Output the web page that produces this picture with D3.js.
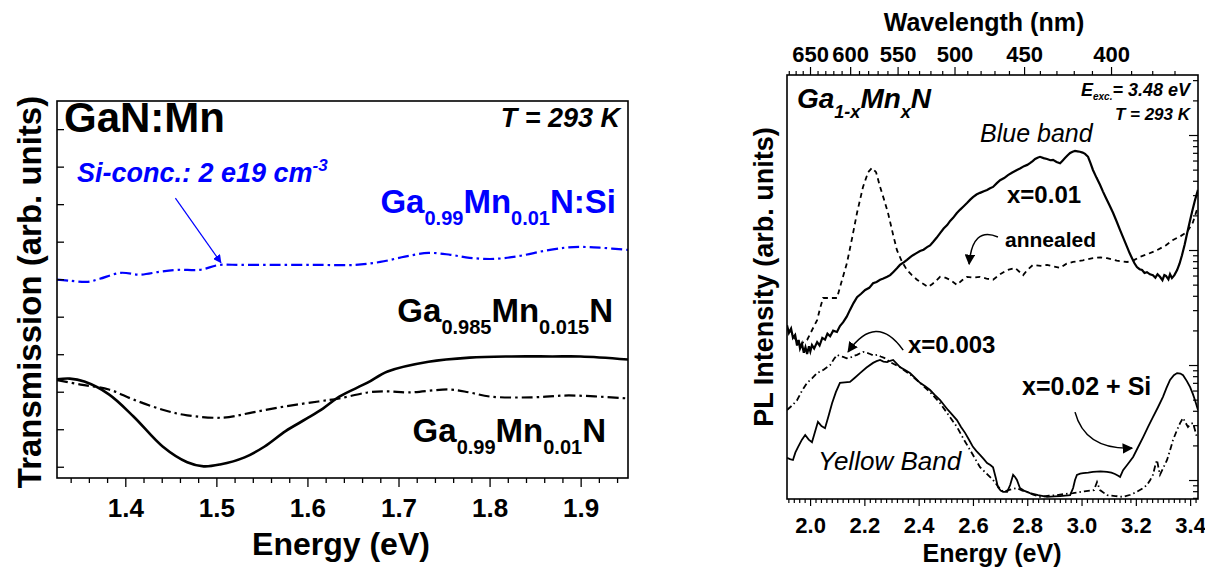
<!DOCTYPE html>
<html><head><meta charset="utf-8">
<script src="https://cdn.jsdelivr.net/npm/d3@7"></script>
<style>
body{margin:0;background:#fff}
svg text{font-family:"Liberation Sans",Arial,Helvetica,sans-serif}
</style>
</head><body>
<svg id="c" width="1205" height="569"></svg>
<script>
// ---------------- DATA: left panel (transmission) ----------------
const transXMajor = [1.4, 1.5, 1.6, 1.7, 1.8, 1.9];
const transYTicks = [0, 1, 2, 3, 4, 5, 6, 7, 8, 9];
// [energy eV, transmission arb. units]
const transSi = [[1.325,4.99],[1.339,4.96],[1.359,4.93],[1.372,5.01],[1.395,5.17],[1.416,5.12],[1.438,5.20],[1.458,5.25],[1.482,5.25],[1.503,5.38],[1.526,5.38],[1.570,5.38],[1.614,5.38],[1.652,5.38],[1.680,5.46],[1.707,5.60],[1.733,5.70],[1.757,5.65],[1.778,5.57],[1.805,5.54],[1.833,5.62],[1.861,5.76],[1.883,5.84],[1.900,5.86],[1.921,5.84],[1.952,5.78]];
const transMn015 = [[1.325,2.33],[1.339,2.35],[1.355,2.27],[1.382,1.93],[1.409,1.34],[1.441,0.54],[1.468,0.12],[1.486,0.01],[1.504,0.06],[1.531,0.25],[1.553,0.54],[1.576,0.95],[1.599,1.28],[1.617,1.55],[1.635,1.87],[1.666,2.24],[1.688,2.54],[1.733,2.80],[1.778,2.91],[1.824,2.94],[1.869,2.94],[1.900,2.94],[1.952,2.86]];
const transMn01 = [[1.325,2.31],[1.351,2.19],[1.382,2.06],[1.409,1.79],[1.441,1.52],[1.468,1.37],[1.508,1.31],[1.540,1.45],[1.576,1.61],[1.612,1.74],[1.635,1.82],[1.666,1.98],[1.688,2.01],[1.711,1.98],[1.756,2.06],[1.778,1.98],[1.801,1.87],[1.846,1.85],[1.887,1.90],[1.952,1.82]];

// ---------------- DATA: right panel (PL) ----------------
const plXMajor = [2.0, 2.2, 2.4, 2.6, 2.8, 3.0, 3.2, 3.4];
const wlMajor = [650, 600, 550, 500, 450, 400];
const wlMinor = [680, 670, 660, 640, 630, 620, 610, 590, 580, 570, 560, 540, 530, 520, 510, 490, 480, 470, 460, 440, 430, 420, 410, 390, 380, 370];
const plLogDomain = [0.684, 3325];
// [energy eV, intensity arb. units]
const plX01 = [[1.915,4.10],[1.922,3.92],[1.930,4.02],[1.937,3.80],[1.945,3.87],[1.952,3.62],[1.958,3.75],[1.963,3.55],[1.970,3.66],[1.977,3.45],[1.983,3.58],[1.989,3.42],[1.996,3.60],[2.001,3.48],[2.007,3.63],[2.015,3.55],[2.026,3.70],[2.035,3.62],[2.045,3.80],[2.055,3.76],[2.064,3.90],[2.074,3.84],[2.085,3.97],[2.099,3.94],[2.110,4.08],[2.122,4.17],[2.135,4.30],[2.147,4.46],[2.160,4.62],[2.173,4.76],[2.188,4.84],[2.203,4.93],[2.218,4.98],[2.232,5.09],[2.245,5.12],[2.258,5.17],[2.270,5.20],[2.284,5.24],[2.295,5.28],[2.306,5.35],[2.320,5.44],[2.331,5.52],[2.345,5.58],[2.357,5.64],[2.368,5.70],[2.379,5.75],[2.392,5.80],[2.405,5.85],[2.418,5.88],[2.431,5.94],[2.442,5.98],[2.453,6.06],[2.466,6.16],[2.479,6.27],[2.492,6.38],[2.505,6.46],[2.516,6.56],[2.527,6.63],[2.540,6.74],[2.552,6.82],[2.565,6.90],[2.578,6.98],[2.590,7.06],[2.600,7.12],[2.613,7.18],[2.626,7.22],[2.640,7.26],[2.652,7.29],[2.663,7.33],[2.674,7.36],[2.688,7.45],[2.700,7.52],[2.715,7.57],[2.729,7.64],[2.745,7.70],[2.762,7.76],[2.775,7.80],[2.788,7.85],[2.800,7.88],[2.810,7.92],[2.820,7.97],[2.829,8.02],[2.838,8.05],[2.847,8.07],[2.860,8.04],[2.873,8.02],[2.885,7.99],[2.895,8.00],[2.908,7.95],[2.921,7.92],[2.930,7.98],[2.939,8.04],[2.948,8.10],[2.958,8.16],[2.967,8.19],[2.976,8.21],[2.985,8.20],[2.994,8.19],[3.004,8.17],[3.013,8.14],[3.024,8.07],[3.033,7.92],[3.042,7.76],[3.055,7.58],[3.068,7.41],[3.079,7.25],[3.090,7.10],[3.103,6.93],[3.116,6.75],[3.129,6.55],[3.142,6.34],[3.155,6.14],[3.168,5.94],[3.177,5.80],[3.186,5.68],[3.195,5.56],[3.204,5.47],[3.214,5.42],[3.223,5.40],[3.232,5.33],[3.241,5.35],[3.252,5.30],[3.263,5.28],[3.272,5.22],[3.280,5.30],[3.289,5.24],[3.298,5.16],[3.305,5.28],[3.311,5.26],[3.320,5.18],[3.326,5.30],[3.333,5.21],[3.342,5.28],[3.352,5.40],[3.361,5.55],[3.370,5.75],[3.380,6.00],[3.389,6.27],[3.398,6.52],[3.407,6.77],[3.418,7.05],[3.429,7.29]];
const plX01Ann = [[1.926,3.99],[1.945,3.78],[1.963,3.63],[1.976,3.70],[1.989,3.75],[2.007,3.98],[2.026,4.22],[2.037,4.50],[2.048,4.74],[2.074,4.74],[2.099,4.74],[2.118,5.17],[2.136,5.57],[2.155,6.16],[2.173,6.75],[2.195,7.36],[2.214,7.71],[2.228,7.81],[2.243,7.71],[2.258,7.36],[2.273,7.05],[2.287,6.75],[2.306,6.23],[2.320,5.87],[2.339,5.59],[2.357,5.40],[2.375,5.28],[2.394,5.17],[2.415,5.08],[2.435,5.00],[2.448,5.06],[2.460,5.12],[2.479,5.24],[2.498,5.22],[2.516,5.17],[2.541,5.05],[2.560,5.16],[2.578,5.24],[2.600,5.22],[2.626,5.24],[2.650,5.20],[2.674,5.17],[2.700,5.30],[2.726,5.40],[2.755,5.45],[2.785,5.28],[2.800,5.40],[2.821,5.52],[2.850,5.50],[2.873,5.52],[2.900,5.48],[2.921,5.45],[2.945,5.55],[2.969,5.59],[3.005,5.63],[3.042,5.68],[3.070,5.70],[3.094,5.68],[3.130,5.62],[3.168,5.59],[3.195,5.64],[3.215,5.71],[3.245,5.78],[3.278,5.87],[3.310,5.98],[3.337,6.11],[3.365,6.20],[3.389,6.30],[3.410,6.52],[3.425,6.82]];
const plX02Si = [[1.915,0.97],[1.926,0.94],[1.937,0.92],[1.946,1.10],[1.956,1.23],[1.970,1.40],[1.982,1.51],[1.995,1.40],[2.007,1.34],[2.018,1.58],[2.029,1.82],[2.042,1.72],[2.055,1.67],[2.068,1.96],[2.081,2.26],[2.095,2.52],[2.110,2.74],[2.128,2.75],[2.147,2.76],[2.165,2.86],[2.184,2.97],[2.208,3.10],[2.232,3.21],[2.245,3.25],[2.258,3.28],[2.270,3.24],[2.284,3.23],[2.295,3.26],[2.306,3.28],[2.318,3.20],[2.331,3.11],[2.350,3.04],[2.368,2.97],[2.386,2.86],[2.405,2.74],[2.424,2.66],[2.442,2.57],[2.460,2.45],[2.479,2.33],[2.494,2.21],[2.508,2.10],[2.525,1.98],[2.541,1.86],[2.556,1.70],[2.571,1.56],[2.586,1.39],[2.600,1.23],[2.613,1.13],[2.626,1.04],[2.640,0.94],[2.652,0.85],[2.664,0.80],[2.674,0.75],[2.684,0.50],[2.692,0.28],[2.702,0.20],[2.711,0.17],[2.726,0.17],[2.737,0.33],[2.748,0.57],[2.755,0.52],[2.762,0.45],[2.773,0.26],[2.790,0.19],[2.810,0.14],[2.840,0.09],[2.873,0.05],[2.900,0.06],[2.921,0.07],[2.940,0.08],[2.958,0.09],[2.969,0.26],[2.976,0.45],[2.983,0.57],[2.995,0.60],[3.006,0.61],[3.025,0.62],[3.042,0.64],[3.070,0.65],[3.094,0.64],[3.110,0.62],[3.123,0.59],[3.135,0.55],[3.142,0.52],[3.153,0.68],[3.170,0.82],[3.190,0.99],[3.208,1.22],[3.227,1.46],[3.245,1.70],[3.263,1.93],[3.282,2.17],[3.300,2.41],[3.313,2.62],[3.326,2.81],[3.340,2.92],[3.352,2.97],[3.364,2.96],[3.374,2.92],[3.388,2.78],[3.400,2.64],[3.410,2.48],[3.418,2.33],[3.429,2.10]];
const plX003 = [[1.915,2.10],[1.933,2.20],[1.952,2.33],[1.970,2.55],[1.989,2.74],[2.008,2.85],[2.026,2.97],[2.050,3.05],[2.074,3.16],[2.088,3.30],[2.099,3.40],[2.110,3.37],[2.122,3.35],[2.135,3.32],[2.147,3.33],[2.160,3.37],[2.173,3.40],[2.185,3.44],[2.195,3.47],[2.208,3.45],[2.221,3.42],[2.235,3.38],[2.247,3.40],[2.260,3.36],[2.273,3.33],[2.295,3.23],[2.331,3.11],[2.368,2.94],[2.405,2.74],[2.442,2.52],[2.479,2.26],[2.510,1.98],[2.541,1.70],[2.565,1.42],[2.589,1.16],[2.608,0.95],[2.626,0.75],[2.650,0.60],[2.674,0.45],[2.692,0.30],[2.711,0.17],[2.737,0.22],[2.762,0.26],[2.780,0.20],[2.799,0.17],[2.822,0.10],[2.847,0.05],[2.880,0.08],[2.910,0.09],[2.940,0.12],[2.969,0.14],[3.010,0.18],[3.046,0.21],[3.057,0.40],[3.068,0.21],[3.094,0.09],[3.125,0.07],[3.153,0.05],[3.180,0.10],[3.204,0.17],[3.225,0.25],[3.241,0.33],[3.253,0.45],[3.263,0.57],[3.272,0.80],[3.278,0.92],[3.284,0.72],[3.289,0.57],[3.300,0.72],[3.315,0.92],[3.326,1.15],[3.337,1.39],[3.350,1.60],[3.363,1.79],[3.374,1.91],[3.383,1.80],[3.392,1.70],[3.402,1.77],[3.411,1.79],[3.418,1.62],[3.425,1.46]];

// ---------------- drawing ----------------
const svg = d3.select("#c");
const BLUE = "#0000ff";
const defs = svg.append("defs");
function marker(id, color){
  defs.append("marker").attr("id", id).attr("viewBox","0 0 10 10").attr("refX",9).attr("refY",5)
    .attr("markerWidth",7).attr("markerHeight",7).attr("orient","auto")
    .append("path").attr("d","M0,0 L10,5 L0,10 z").attr("fill", color);
}
marker("arrK", "#000"); marker("arrB", BLUE);

function txt(g, x, y, s, size, opts={}){
  const t = g.append("text").attr("x",x).attr("y",y).attr("font-size",size)
    .attr("font-weight", opts.weight||"bold").attr("font-style", opts.style||"normal")
    .attr("fill", opts.color||"#000").attr("text-anchor", opts.anchor||"start");
  if (opts.rotate) t.attr("transform",`rotate(${opts.rotate},${x},${y})`);
  if (s !== null) t.text(s);
  return t;
}
// parts: [string, isSub]
function formula(g, x, y, parts, big, small, shift, opts={}){
  const t = txt(g, x, y, null, big, opts);
  let cur = 0;
  parts.forEach(([s, sub]) => {
    const want = sub ? shift : 0;
    t.append("tspan").attr("dy", want - cur).attr("font-size", sub ? small : big).text(s);
    cur = want;
  });
  return t;
}

// ===== LEFT PANEL =====
const L = {x0:57, x1:628, y0:101, y1:478};
const xL = d3.scaleLinear().domain([1.325, 1.952]).range([L.x0, L.x1]);
const yL = d3.scaleLinear().domain([-0.3, 9.75]).range([L.y1, L.y0]);
defs.append("clipPath").attr("id","clipL").append("rect").attr("x",L.x0).attr("y",L.y0).attr("width",L.x1-L.x0).attr("height",L.y1-L.y0);
const gL = svg.append("g");

const lineL = d3.line().x(d=>xL(d[0])).y(d=>yL(d[1])).curve(d3.curveCatmullRom.alpha(0.5));
const curvesL = gL.append("g").attr("clip-path","url(#clipL)");
curvesL.append("path").datum(transSi).attr("d",lineL).attr("fill","none").attr("stroke",BLUE).attr("stroke-width",2.2).attr("stroke-dasharray","11,4,2.5,4");
curvesL.append("path").datum(transMn01).attr("d",lineL).attr("fill","none").attr("stroke","#000").attr("stroke-width",2.2).attr("stroke-dasharray","11,4,2.5,4");
curvesL.append("path").datum(transMn015).attr("d",lineL).attr("fill","none").attr("stroke","#000").attr("stroke-width",2.6);

const xLMinor = d3.range(67, 98).map(i => +(i*0.02).toFixed(2)).filter(v => Math.abs(v*10 - Math.round(v*10)) > 1e-6);
const axLMinor = gL.append("g").attr("transform",`translate(0,${L.y1})`).call(d3.axisBottom(xL).tickValues(xLMinor).tickSize(5).tickFormat(""));
const axLMajor = gL.append("g").attr("transform",`translate(0,${L.y1})`).call(d3.axisBottom(xL).tickValues(transXMajor).tickSize(9).tickPadding(12).tickFormat(d3.format(".1f")));
[axLMinor, axLMajor].forEach(a => { a.select(".domain").remove(); a.selectAll("line").attr("stroke","#000").attr("stroke-width",1.3); });
axLMajor.selectAll("text").attr("font-size",26).attr("font-weight","bold").attr("fill","#000").style("font-family","'Liberation Sans',Arial,sans-serif");
const axLY = gL.append("g").attr("transform",`translate(${L.x0},0)`).call(d3.axisRight(yL).tickValues(transYTicks).tickSize(7).tickFormat(""));
axLY.select(".domain").remove(); axLY.selectAll("line").attr("stroke","#000").attr("stroke-width",1.3);

gL.append("rect").attr("x",L.x0).attr("y",L.y0).attr("width",L.x1-L.x0).attr("height",L.y1-L.y0).attr("fill","none").attr("stroke","#000").attr("stroke-width",1.6);

txt(gL, 64, 132, "GaN:Mn", 42);
txt(gL, 620, 127, "T = 293 K", 27, {style:"italic", anchor:"end"});
const si = txt(gL, 77, 182, "Si-conc.: 2 e19 cm", 27, {style:"italic", color:BLUE});
si.append("tspan").attr("dy",-11).attr("font-size",17).text("-3");
formula(gL, 616, 213, [["Ga",0],["0.99",1],["Mn",0],["0.01",1],["N:Si",0]], 33, 20, 12, {anchor:"end", color:BLUE});
formula(gL, 613, 322, [["Ga",0],["0.985",1],["Mn",0],["0.015",1],["N",0]], 33, 20, 12, {anchor:"end"});
formula(gL, 606, 442, [["Ga",0],["0.99",1],["Mn",0],["0.01",1],["N",0]], 33, 20, 12, {anchor:"end"});
txt(gL, 341, 555, "Energy (eV)", 32, {anchor:"middle"});
txt(gL, 41, 292, "Transmission (arb. units)", 33, {anchor:"middle", rotate:-90});

const siArrow = [[1.455, 7.16], [1.505, 5.44]];
gL.append("path").attr("d", d3.line().x(d=>xL(d[0])).y(d=>yL(d[1]))(siArrow))
  .attr("stroke",BLUE).attr("stroke-width",1.2).attr("fill","none").attr("marker-end","url(#arrB)");

// ===== RIGHT PANEL =====
const R = {x0:787, x1:1198, y0:75, y1:499};
const xR = d3.scaleLinear().domain([1.915, 3.429]).range([R.x0, R.x1]);
const yR = d3.scaleLinear().domain([0, 10]).range([R.y1, R.y0]);
const xTop = d3.scaleLinear().domain([1.8163, 3.444]).range([R.x0, R.x1]);
const HC = 1239.84;
defs.append("clipPath").attr("id","clipR").append("rect").attr("x",R.x0).attr("y",R.y0).attr("width",R.x1-R.x0).attr("height",R.y1-R.y0);
const gR = svg.append("g");
const lineR = d3.line().x(d=>xR(d[0])).y(d=>yR(d[1])).curve(d3.curveLinear);
const curvesR = gR.append("g").attr("clip-path","url(#clipR)");
curvesR.append("path").datum(plX01Ann).attr("d",lineR).attr("fill","none").attr("stroke","#000").attr("stroke-width",1.8).attr("stroke-dasharray","5,4");
curvesR.append("path").datum(plX01).attr("d",lineR).attr("fill","none").attr("stroke","#000").attr("stroke-width",2.2);
curvesR.append("path").datum(plX003).attr("d",lineR).attr("fill","none").attr("stroke","#000").attr("stroke-width",1.8).attr("stroke-dasharray","6,3,1.5,3");
curvesR.append("path").datum(plX02Si).attr("d",lineR).attr("fill","none").attr("stroke","#000").attr("stroke-width",1.8);

const xRMinor = d3.range(96, 172).map(i => +(i*0.02).toFixed(2)).filter(v => Math.abs(v*5 - Math.round(v*5)) > 1e-6);
const axRMinor = gR.append("g").attr("transform",`translate(0,${R.y1})`).call(d3.axisBottom(xR).tickValues(xRMinor).tickSize(4).tickFormat(""));
const axRMajor = gR.append("g").attr("transform",`translate(0,${R.y1})`).call(d3.axisBottom(xR).tickValues(plXMajor).tickSize(7).tickPadding(11).tickFormat(d3.format(".1f")));
const axTMinor = gR.append("g").attr("transform",`translate(0,${R.y0})`).call(d3.axisTop(xTop).tickValues(wlMinor.map(l=>HC/l)).tickSize(4).tickFormat(""));
const axTMajor = gR.append("g").attr("transform",`translate(0,${R.y0})`).call(d3.axisTop(xTop).tickValues(wlMajor.map(l=>HC/l)).tickSize(8).tickPadding(5).tickFormat((d,i)=>wlMajor[i]));
// right log axis, ticks pointing inward
const yRlog = d3.scaleLog().domain(plLogDomain).range([R.y1, R.y0]);
const logTicks = yRlog.ticks();
const axRY = gR.append("g").attr("transform",`translate(${R.x1},0)`).call(d3.axisLeft(yRlog).tickValues(logTicks).tickSize(5).tickFormat(""));
axRY.selectAll(".tick line").attr("x2", d => (Math.abs(Math.log10(d) - Math.round(Math.log10(d))) < 1e-9) ? -9 : -5);
[axRMinor, axRMajor, axTMinor, axTMajor, axRY].forEach(a => { a.select(".domain").remove(); a.selectAll("line").attr("stroke","#000").attr("stroke-width",1.2); });
[axRMajor, axTMajor].forEach(a => a.selectAll("text").attr("font-size",22).attr("font-weight","bold").attr("fill","#000").style("font-family","'Liberation Sans',Arial,sans-serif"));

gR.append("rect").attr("x",R.x0).attr("y",R.y0).attr("width",R.x1-R.x0).attr("height",R.y1-R.y0).attr("fill","none").attr("stroke","#000").attr("stroke-width",1.6);

txt(gR, 984, 31, "Wavelength (nm)", 25, {anchor:"middle"});
txt(gR, 992, 562, "Energy (eV)", 25, {anchor:"middle"});
txt(gR, 773, 277, "PL Intensity (arb. units)", 27, {anchor:"middle", rotate:-90});
formula(gR, 797, 108, [["Ga",0],["1-x",1],["Mn",0],["x",1],["N",0]], 28, 18, 10, {style:"italic"});
formula(gR, 1190, 96, [["E",0],["exc.",1],["= 3.48 eV",0]], 18, 10, 4, {style:"italic", anchor:"end"});
txt(gR, 1190, 120, "T = 293 K", 17, {style:"italic", anchor:"end"});
txt(gR, 980, 142, "Blue band", 25, {style:"italic", weight:"normal"});
txt(gR, 1007, 203, "x=0.01", 24);
txt(gR, 1005, 247, "annealed", 21);
txt(gR, 908, 353, "x=0.003", 24);
txt(gR, 1022, 395, "x=0.02 + Si", 25);
txt(gR, 818, 470, "Yellow Band", 26, {style:"italic", weight:"normal"});

const plArrows = [
  [[2.692,6.18],[2.597,6.44],[2.586,5.54]],
  [[2.343,3.51],[2.243,4.41],[2.140,3.47]],
  [[2.976,2.05],[3.013,1.16],[3.186,1.20]]
];
plArrows.forEach(a => {
  const p = d3.path();
  p.moveTo(xR(a[0][0]), yR(a[0][1]));
  p.quadraticCurveTo(xR(a[1][0]), yR(a[1][1]), xR(a[2][0]), yR(a[2][1]));
  gR.append("path").attr("d", p.toString()).attr("fill","none").attr("stroke","#000").attr("stroke-width",1.5).attr("marker-end","url(#arrK)");
});
</script>
</body></html>
